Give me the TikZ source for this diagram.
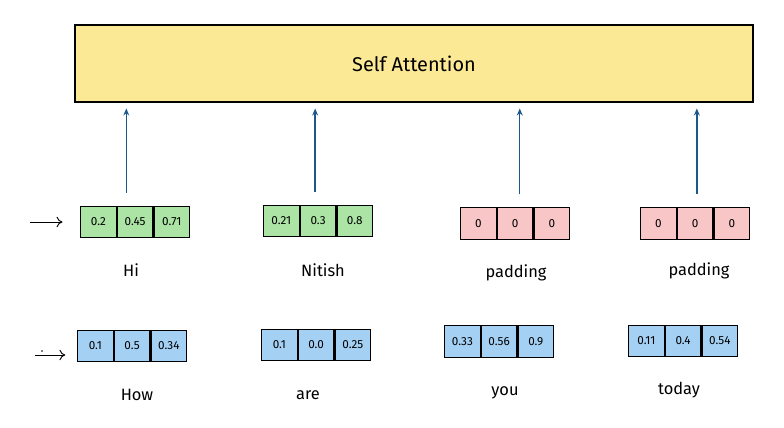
\documentclass[tikz,border=0pt]{standalone}
\usepackage{fontspec}
\setmainfont{Fira Sans}
\usetikzlibrary{arrows.meta,positioning}

\definecolor{attnyellow}{RGB}{251,233,150}
\definecolor{tokgreen}{RGB}{172,228,166}
\definecolor{padpink}{RGB}{248,198,198}
\definecolor{tokblue}{RGB}{164,208,244}
\definecolor{flowblue}{RGB}{28,88,140}

% one embedding vector = three cells side by side
\newcommand{\embed}[7]{%
  \node[cell, fill=#4, anchor=west] (#1a) at (#2,#3) {#5};
  \node[cell, fill=#4, right=0pt of #1a] (#1b) {#6};
  \node[cell, fill=#4, right=0pt of #1b] (#1c) {#7};
}

\begin{document}
\begin{tikzpicture}[
    x=0.03cm, y=-0.03cm,
    cell/.style={draw, line width=0.9pt, minimum width=1.07cm, minimum height=0.95cm, inner sep=0pt, font=\fontsize{10}{11}\selectfont},
    word/.style={font=\fontsize{14}{16}\selectfont},
    flow/.style={-{Stealth[length=6pt,width=5pt]}, draw=flowblue, line width=1.2pt, shorten <=11pt, shorten >=5pt},
    feed/.style={-{To[length=5pt,width=9pt]}, line width=0.8pt, shorten >=15pt}
]
\useasboundingbox (0,0) rectangle (784,428);

\node[draw, line width=1pt, fill=attnyellow, minimum width=20.34cm, minimum height=2.31cm, font=\fontsize{17}{19}\selectfont] (attn) at (414,63.5) {Self Attention};

% first sentence
\embed{hi}{80}{222}{tokgreen}{0.2}{0.45}{0.71}
\embed{nit}{263}{221}{tokgreen}{0.21}{0.3}{0.8}
\embed{padA}{460}{223.5}{padpink}{0}{0}{0}
\embed{padB}{640}{223.5}{padpink}{0}{0}{0}

\node[word] (hiw) at (131,270) {Hi};
\node[word] (nitw) at (323,270) {Nitish};
\node[word] (padAw) at (516,273) {padding};
\node[word] (padBw) at (699,271) {padding};

% second sentence
\embed{how}{77}{346}{tokblue}{0.1}{0.5}{0.34}
\embed{are}{261}{345}{tokblue}{0.1}{0.0}{0.25}
\embed{you}{444}{341.5}{tokblue}{0.33}{0.56}{0.9}
\embed{tod}{628}{341}{tokblue}{0.11}{0.4}{0.54}

\node[word] (howw) at (137,395) {How};
\node[word] (arew) at (308,395) {are};
\node[word] (youw) at (505,393) {you};
\node[word] (todw) at (679,390) {today};

% into self attention
\draw[flow] ([xshift=-7.5pt]hib.north) -- ([xshift=-7.5pt]hib.north |- attn.south);
\draw[flow] ([xshift=-2.5pt]nitb.north) -- ([xshift=-2.5pt]nitb.north |- attn.south);
\draw[flow] ([xshift=4pt]padAb.north) -- ([xshift=4pt]padAb.north |- attn.south);
\draw[flow] ([xshift=1.5pt]padBb.north) -- ([xshift=1.5pt]padBb.north |- attn.south);

% input arrows
\coordinate (in1) at (30,222);
\coordinate (in2) at (35,355);
\draw[feed] (in1) -- (in1 -| hia.west);
\draw[feed, shorten >=10pt] (in2) -- (in2 -| howa.west);
\fill (42,351) circle (0.7pt);

\end{tikzpicture}
\end{document}
